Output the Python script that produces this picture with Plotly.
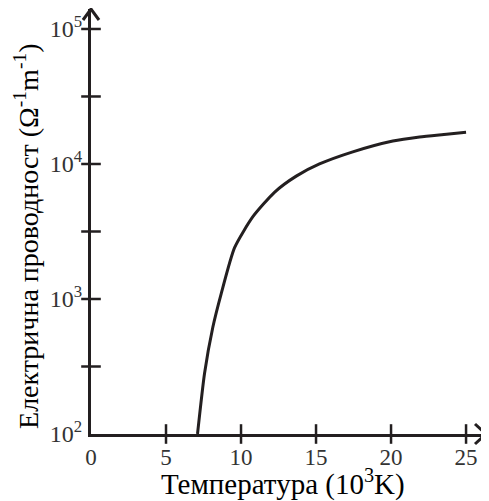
import plotly.graph_objects as go

# Data
temperature = [7.1, 7.57, 8.12, 8.68, 9.57, 10.79, 12.23, 13.68, 15.23, 17.45, 20.12, 21.9, 23.7, 25.0]
conductivity = [100, 282, 617, 1096, 2400, 4070, 6170, 8130, 10000, 12300, 14800, 15850, 16600, 17200]

x_tick_vals = [0, 5, 10, 15, 20, 25]
x_tick_text = ["0", "5", "10", "15", "20", "25"]
x_marks = [5, 10, 15, 20, 25]
y_tick_vals = [100, 1000, 10000, 100000]
y_tick_text = ["10<sup>2</sup>", "10<sup>3</sup>", "10<sup>4</sup>", "10<sup>5</sup>"]
y_marks = [316.2, 1000, 3162, 10000, 31623, 100000]

ink = "#231f20"
serif = "Liberation Serif, serif"

fig = go.Figure()
fig.add_trace(go.Scatter(x=temperature, y=conductivity, mode="lines",
                         line=dict(color=ink, width=3, shape="spline", smoothing=0.6),
                         hoverinfo="skip"))
# tick marks crossing the axes
fig.add_trace(go.Scatter(x=x_marks, y=[100] * len(x_marks), mode="markers",
                         marker=dict(symbol="line-ns-open", size=14, color=ink,
                                     line=dict(color=ink, width=2.5)),
                         cliponaxis=False, hoverinfo="skip"))
fig.add_trace(go.Scatter(x=[0] * len(y_marks), y=y_marks, mode="markers",
                         marker=dict(symbol="line-ew-open", size=14, color=ink,
                                     line=dict(color=ink, width=2.5)),
                         cliponaxis=False, hoverinfo="skip"))

fig.update_layout(
    width=481, height=493,
    margin=dict(l=83, r=3, t=1, b=67),
    paper_bgcolor="white", plot_bgcolor="white",
    showlegend=False,
    font=dict(family=serif, color="#000"),
    xaxis=dict(range=[0, 26.33], tickvals=x_tick_vals, ticktext=x_tick_text,
               showgrid=False, zeroline=False, showline=True, linewidth=3, linecolor=ink,
               ticks="", ticklabelstandoff=0,
               tickfont=dict(size=23, color="#333333", family=serif)),
    yaxis=dict(type="log", range=[2, 5.148], tickvals=y_tick_vals, ticktext=y_tick_text,
               showgrid=False, zeroline=False, showline=True, linewidth=3, linecolor=ink,
               ticks="", ticklabelstandoff=1,
               tickfont=dict(size=24, color="#333333", family=serif)),
    shapes=[
        dict(type="path", xref="paper", yref="paper", xsizemode="pixel", ysizemode="pixel",
             xanchor=1.0, yanchor=0.0, path="M-11,10 L0,0 L-11,-10",
             line=dict(color=ink, width=3)),
        dict(type="path", xref="paper", yref="paper", xsizemode="pixel", ysizemode="pixel",
             xanchor=0.0, yanchor=1.0, path="M-8,-11 L0,0 L8,-11",
             line=dict(color=ink, width=3)),
    ],
    annotations=[
        dict(text="Температура (10<sup>3</sup>K)", xref="paper", yref="paper",
             x=0.486, y=-0.113, xanchor="center", yanchor="middle", showarrow=False,
             font=dict(size=29, color="#000", family=serif)),
        dict(text="Електрична проводност (Ω<sup>-1</sup>m<sup>-1</sup>)", xref="paper", yref="paper",
             x=-0.162, y=0.466, xanchor="center", yanchor="middle", showarrow=False,
             textangle=-90, font=dict(size=28, color="#000", family=serif)),
    ],
)

fig.write_html("out.html")
